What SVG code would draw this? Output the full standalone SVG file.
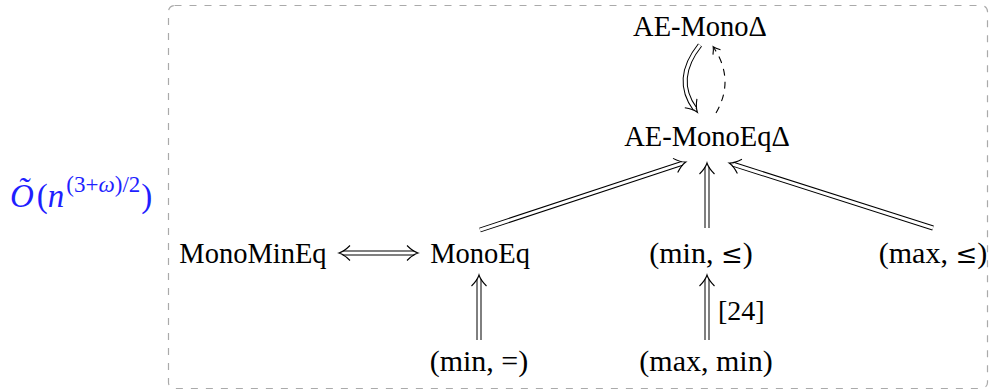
<svg xmlns="http://www.w3.org/2000/svg" width="993" height="390" viewBox="0 0 993 390">
<style>
.lbl{font-family:"Liberation Serif","Times New Roman",serif;font-size:28.5px;fill:#000;text-anchor:middle}
.m{font-size:30px}
.le{font-family:"DejaVu Serif",serif;font-size:26px}
.o{fill:none;stroke:#000;stroke-width:5}
.i{fill:none;stroke:#fff;stroke-width:3}
.frame{fill:none;stroke:#aaa;stroke-width:1.2;stroke-dasharray:7 8}
.dash{fill:none;stroke:#000;stroke-width:1.1;stroke-dasharray:7 6}
</style>
<defs>
<marker id="imp" markerUnits="userSpaceOnUse" orient="auto-start-reverse" viewBox="-10 -10 20 20" markerWidth="20" markerHeight="20" refX="0" refY="0" overflow="visible">
<path d="M-7,-7.5 Q-1,-1.5 4,0 Q-1,1.5 -7,7.5" fill="none" stroke="#000" stroke-width="1.1"/>
</marker>
<marker id="sng" markerUnits="userSpaceOnUse" orient="auto" viewBox="-10 -10 20 20" markerWidth="20" markerHeight="20" refX="0" refY="0" overflow="visible">
<path d="M-5,-4.5 Q-1,-1 1.5,0 Q-1,1 -5,4.5" fill="none" stroke="#000" stroke-width="1.1"/>
</marker>
</defs>
<rect class="frame" x="168.5" y="5.5" width="819" height="383" rx="6"/>
<g id="complexity">
<text x="10" y="207" font-family="'Liberation Serif','Times New Roman',serif" font-size="33" fill="#1f1fff"><tspan font-style="italic">Õ</tspan><tspan dx="3">(</tspan><tspan font-style="italic">n</tspan><tspan font-size="23" dy="-15" dx="2">(3+<tspan font-style="italic">ω</tspan>)/2</tspan><tspan dy="15" dx="1">)</tspan></text>
</g>
<g id="n-aemono"><text class="lbl" x="700" y="36">AE-MonoΔ</text></g>
<g id="n-aemonoeq"><text class="lbl" x="707" y="146">AE-MonoEqΔ</text></g>
<g id="n-monomineq"><text class="lbl" x="253" y="263">MonoMinEq</text></g>
<g id="n-monoeq"><text class="lbl" x="480" y="263">MonoEq</text></g>
<g id="n-minle"><text class="lbl m" x="701" y="263">(min, <tspan class="le">≤</tspan>)</text></g>
<g id="n-maxle"><text class="lbl m" x="933" y="263">(max, <tspan class="le">≤</tspan>)</text></g>
<g id="n-mineq"><text class="lbl m" x="479" y="371">(min, =)</text></g>
<g id="n-maxmin"><text class="lbl m" x="706" y="371">(max, min)</text></g>
<g id="connectors">
<path class="o" d="M700,45 Q673,79 695,109"/>
<path class="i" d="M700,45 Q673,79 695,109" marker-end="url(#imp)"/>
<path class="dash" d="M716,113 Q735,80 714,48" marker-end="url(#sng)"/>
<path class="o" d="M343,253 L414,253"/>
<path class="i" d="M343,253 L414,253" marker-start="url(#imp)" marker-end="url(#imp)"/>
<path class="o" d="M480,230 L682,163.3"/>
<path class="i" d="M480,230 L682,163.3" marker-end="url(#imp)"/>
<path class="o" d="M707,228 L707,167"/>
<path class="i" d="M707,228 L707,167" marker-end="url(#imp)"/>
<path class="o" d="M933,228 L733,164.2"/>
<path class="i" d="M933,228 L733,164.2" marker-end="url(#imp)"/>
<path class="o" d="M479,340 L479,279"/>
<path class="i" d="M479,340 L479,279" marker-end="url(#imp)"/>
<path class="o" d="M707,340 L707,279"/>
<path class="i" d="M707,340 L707,279" marker-end="url(#imp)"/>
<text x="718" y="320" font-family="'Liberation Serif','Times New Roman',serif" font-size="28">[24]</text>
</g>
</svg>
